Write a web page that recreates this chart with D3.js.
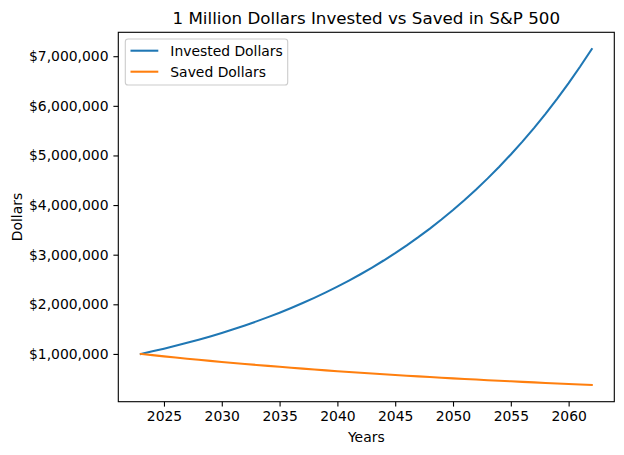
<!DOCTYPE html>
<html>
<head>
<meta charset="utf-8">
<script src="https://cdn.jsdelivr.net/npm/d3@7"></script>
<style>
	body { margin: 0; background: #fff; }
	text { font-family: "DejaVu Sans", sans-serif; fill: #000; }
</style>
</head>
<body>
<div id="chart"></div>
<script>
// years on the x axis
var years = [2023,2024,2025,2026,2027,2028,2029,2030,2031,2032,2033,2034,2035,2036,2037,2038,2039,2040,
	2041,2042,2043,2044,2045,2046,2047,2048,2049,2050,2051,2052,2053,2054,2055,2056,2057,2058,2059,2060,2061,2062];

// values
var invested = [1000000,1051700,1106100,1163300,1223400,1286700,1353200,1423200,1496800,1574200,
	1655600,1741200,1831200,1925900,2025500,2130200,2240400,2356200,2478100,2606200,
	2741000,2882700,3031800,3188600,3353400,3526800,3709200,3901000,4102700,4314800,
	4537900,4772600,5019400,5278900,5551900,5839000,6140900,6458400,6792400,7143600];
var saved = [1000000,975200,951000,927400,904400,882000,860100,838800,818000,797700,
	777900,758600,739800,721500,703600,686100,669100,652500,636300,620600,
	605200,590200,575500,561300,547300,533800,520500,507600,495000,482800,
	470800,459100,447700,436600,425800,415200,404900,394900,385100,375500];

var xTicks = [2025,2030,2035,2040,2045,2050,2055,2060];
var yTicks = [1000000,2000000,3000000,4000000,5000000,6000000,7000000];

var seriesNames = ['Invested Dollars','Saved Dollars'];
var colors = ['#1f77b4','#ff7f0e'];

var W = 624, H = 455;
// plot box (window.top is taken, so use own names)
var pLeft = 118.3, pRight = 614.3, pTop = 32.3, pBottom = 401.7;

var svg = d3.select('#chart').append('svg')
	.attr('width', W).attr('height', H);

// matplotlib style 5% margins
var x0 = d3.min(years), x1 = d3.max(years);
var xPad = (x1 - x0) * 0.05;
var x = d3.scaleLinear().domain([x0 - xPad, x1 + xPad]).range([pLeft, pRight]);

var yMin = d3.min(saved), yMax = d3.max(invested);
var yPad = (yMax - yMin) * 0.05;
var y = d3.scaleLinear().domain([yMin - yPad, yMax + yPad]).range([pBottom, pTop]);

var fmt = function(d){ return '$' + d3.format(',')(d); };

var xAxis = svg.append('g')
	.attr('transform', 'translate(0,' + pBottom + ')')
	.call(d3.axisBottom(x).tickValues(xTicks).tickFormat(d3.format('d')).tickSize(4.9).tickPadding(4.9));
var yAxis = svg.append('g')
	.attr('transform', 'translate(' + pLeft + ',0)')
	.call(d3.axisLeft(y).tickValues(yTicks).tickFormat(fmt).tickSize(4.9).tickPadding(4.9));

[xAxis, yAxis].forEach(function(a){
	a.select('.domain').remove();
	a.selectAll('line').attr('stroke', '#000').attr('stroke-width', 1.1);
	a.selectAll('text').attr('font-size', '13.9px').attr('font-family', '"DejaVu Sans", sans-serif').attr('fill', '#000');
});

// lines
var line = d3.line()
	.x(function(d){ return x(d[0]); })
	.y(function(d){ return y(d[1]); });

[invested, saved].forEach(function(s, i){
	svg.append('path')
		.datum(years.map(function(yr, j){ return [yr, s[j]]; }))
		.attr('d', line)
		.attr('fill', 'none')
		.attr('stroke', colors[i])
		.attr('stroke-width', 2.08)
		.attr('stroke-linecap', 'square');
});

// axes frame
svg.append('rect')
	.attr('x', pLeft).attr('y', pTop)
	.attr('width', pRight - pLeft).attr('height', pBottom - pTop)
	.attr('fill', 'none').attr('stroke', '#000').attr('stroke-width', 1.1);

// title and labels
svg.append('text')
	.attr('x', (pLeft + pRight) / 2).attr('y', 23.5)
	.attr('text-anchor', 'middle').attr('font-size', '16.7px')
	.text('1 Million Dollars Invested vs Saved in S&P 500');
svg.append('text')
	.attr('x', (pLeft + pRight) / 2).attr('y', 442)
	.attr('text-anchor', 'middle').attr('font-size', '13.9px')
	.text('Years');
svg.append('text')
	.attr('transform', 'translate(21.5,' + ((pTop + pBottom) / 2) + ') rotate(-90)')
	.attr('text-anchor', 'middle').attr('font-size', '13.9px')
	.text('Dollars');

// legend
var lg = svg.append('g');
lg.append('rect')
	.attr('x', 125.3).attr('y', 39).attr('width', 162.4).attr('height', 46)
	.attr('rx', 2.8).attr('fill', '#fff').attr('fill-opacity', 0.8)
	.attr('stroke', '#cccccc').attr('stroke-width', 1.1);
seriesNames.forEach(function(name, i){
	var ly = 50.7 + i * 21;
	lg.append('line')
		.attr('x1', 130.5).attr('x2', 158.3).attr('y1', ly).attr('y2', ly)
		.attr('stroke', colors[i]).attr('stroke-width', 2.08);
	lg.append('text')
		.attr('x', 170.3).attr('y', ly + 5)
		.attr('font-size', '13.9px')
		.text(name);
});
</script>
</body>
</html>
